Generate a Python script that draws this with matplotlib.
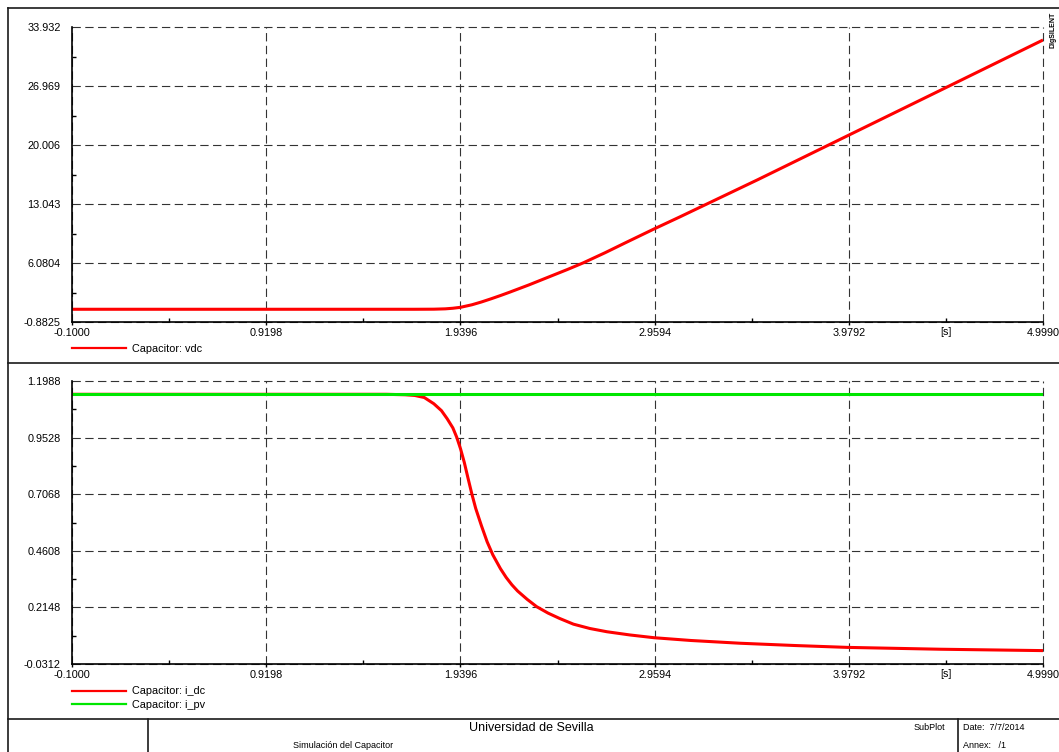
import numpy as np
import matplotlib
matplotlib.use("Agg")
import matplotlib.pyplot as plt
from matplotlib.lines import Line2D

plt.rcParams["font.family"] = ["Liberation Sans", "DejaVu Sans"]

# ============================================================
# DATOS
# ============================================================

# Tension del condensador (vdc)
t_vdc = [-0.100, 1.700, 1.800, 1.860, 1.900, 1.940, 2.000, 2.050, 2.100, 2.150, 2.200,
         2.300, 2.400, 2.500, 2.585, 2.700, 2.800, 2.952, 3.090, 3.500, 4.000, 4.500, 4.999]
vdc = [0.62, 0.62, 0.63, 0.67, 0.74, 0.85, 1.15, 1.48, 1.85, 2.24, 2.65,
       3.50, 4.40, 5.30, 6.10, 7.30, 8.40, 10.05, 11.50, 15.90, 21.40, 26.90, 32.40]

# Corrientes del condensador
t_idc = [-0.100, 1.550, 1.600, 1.650, 1.700, 1.750, 1.800, 1.840, 1.870, 1.900,
         1.920, 1.940, 1.960, 1.980, 2.000, 2.020, 2.050, 2.080, 2.110, 2.150,
         2.180, 2.210, 2.240, 2.290, 2.340, 2.400, 2.460, 2.533, 2.620, 2.709,
         2.830, 2.957, 3.150, 3.409, 3.700, 3.972, 4.459, 4.999]
i_dc = [1.141, 1.141, 1.140, 1.139, 1.136, 1.127, 1.100, 1.070, 1.035, 0.995,
        0.955, 0.905, 0.845, 0.775, 0.707, 0.645, 0.570, 0.500, 0.443, 0.383,
        0.345, 0.313, 0.286, 0.250, 0.218, 0.190, 0.167, 0.142, 0.123, 0.109,
        0.095, 0.083, 0.071, 0.059, 0.049, 0.041, 0.033, 0.027]

t_ipv = [-0.100, 4.999]
i_pv = [1.141, 1.141]

# Ejes
xticks = [-0.1000, 0.9198, 1.9396, 2.9594, 3.9792, 4.9990]
xtick_labels = ["-0.1000", "0.9198", "1.9396", "2.9594", "3.9792", "4.9990"]

yticks_vdc = [-0.8825, 6.0804, 13.043, 20.006, 26.969, 33.932]
ytick_labels_vdc = ["-0.8825", "6.0804", "13.043", "20.006", "26.969", "33.932"]

yticks_i = [-0.0312, 0.2148, 0.4608, 0.7068, 0.9528, 1.1988]
ytick_labels_i = ["-0.0312", "0.2148", "0.4608", "0.7068", "0.9528", "1.1988"]

ROJO = "#ff0000"
VERDE = "#00e600"
FS = 7.8

W, H = 1059, 752


def fx(px):
    return px / W


def fy(py):
    return 1 - py / H


def configurar_eje(ax, yticks, ylabels):
    ax.set_xlim(xticks[0], xticks[-1])
    ax.set_ylim(yticks[0], yticks[-1])
    ax.set_xticks(xticks)
    ax.set_xticklabels(xtick_labels, fontsize=FS)
    ax.set_yticks(yticks)
    ax.set_yticklabels(ylabels, fontsize=FS)
    # marcas secundarias a mitad de intervalo
    ax.set_xticks([(a + b) / 2 for a, b in zip(xticks[:-1], xticks[1:])], minor=True)
    ax.set_yticks([(a + b) / 2 for a, b in zip(yticks[:-1], yticks[1:])], minor=True)
    ax.tick_params(axis="x", which="major", direction="out", length=2.5, width=1, pad=2)
    ax.tick_params(axis="y", which="major", direction="out", length=0, pad=8)
    ax.tick_params(which="minor", direction="in", length=3, width=1)
    ax.grid(True, which="major", linestyle=(0, (7.5, 4)), color="#333333", linewidth=0.8)
    # que la rejilla del borde derecho y superior no quede recortada
    for gl in ax.get_xgridlines() + ax.get_ygridlines():
        gl.set_clip_on(False)
    for lado in ["top", "right"]:
        ax.spines[lado].set_visible(False)
    for lado in ["left", "bottom"]:
        ax.spines[lado].set_linewidth(1.2)
    # etiqueta de unidades en el eje de tiempo
    ax.text((xticks[-2] + xticks[-1]) / 2, -0.016, "[s]", fontsize=FS,
            transform=ax.get_xaxis_transform(), ha="center", va="top")


fig = plt.figure(figsize=(W / 100, H / 100), dpi=100)

# ============================================================
# GRAFICA SUPERIOR: vdc
# ============================================================

ax1 = fig.add_axes([fx(72), fy(322), fx(1043) - fx(72), fy(27) - fy(322)])
ax1.plot(t_vdc, vdc, color=ROJO, linewidth=2.2, solid_capstyle="butt")
configurar_eje(ax1, yticks_vdc, ytick_labels_vdc)

ax1.legend(handles=[Line2D([], [], color=ROJO, lw=1.6)],
           labels=["Capacitor: vdc"],
           loc="upper left", bbox_to_anchor=(0, -0.074), frameon=False,
           fontsize=FS, handlelength=5.0, handletextpad=0.55,
           borderpad=0, borderaxespad=0)

# ============================================================
# GRAFICA INFERIOR: i_dc, i_pv
# ============================================================

ax2 = fig.add_axes([fx(72), fy(664), fx(1043) - fx(72), fy(381) - fy(664)])
ax2.plot(t_idc, i_dc, color=ROJO, linewidth=2.2, solid_capstyle="butt")
ax2.plot(t_ipv, i_pv, color=VERDE, linewidth=2.2, solid_capstyle="butt")
configurar_eje(ax2, yticks_i, ytick_labels_i)

ax2.legend(handles=[Line2D([], [], color=ROJO, lw=1.6),
                    Line2D([], [], color=VERDE, lw=1.6)],
           labels=["Capacitor: i_dc", "Capacitor: i_pv"],
           loc="upper left", bbox_to_anchor=(0, -0.079), frameon=False,
           fontsize=FS, handlelength=5.0, handletextpad=0.55, labelspacing=0.35,
           borderpad=0, borderaxespad=0)

# ============================================================
# MARCO Y CAJETIN
# ============================================================

lineas_marco = [
    ((8, 8), (8, 752)),
    ((8, 1059), (8, 8)),
    ((8, 1059), (363, 363)),
    ((8, 1059), (719, 719)),
    ((148, 148), (719, 752)),
    ((958, 958), (719, 752)),
]
for xs, ys in lineas_marco:
    fig.add_artist(Line2D([fx(x) for x in xs], [fy(y) for y in ys],
                          color="#1a1a1a", linewidth=1.2))

fig.text(fx(531), fy(728), "Universidad de Sevilla", fontsize=9, ha="center", va="center")
fig.text(fx(343), fy(745), "Simulación del Capacitor", fontsize=6.5, ha="center", va="center")
fig.text(fx(945), fy(728), "SubPlot", fontsize=6.5, ha="right", va="center")
fig.text(fx(963), fy(728), "Date:  7/7/2014", fontsize=6.5, ha="left", va="center")
fig.text(fx(963), fy(745), "Annex:   /1", fontsize=6.5, ha="left", va="center")
fig.text(fx(1053), fy(12), "DIgSILENT", fontsize=5, fontweight="bold",
         rotation=90, ha="center", va="top")

fig.savefig("out.png", dpi=100)
